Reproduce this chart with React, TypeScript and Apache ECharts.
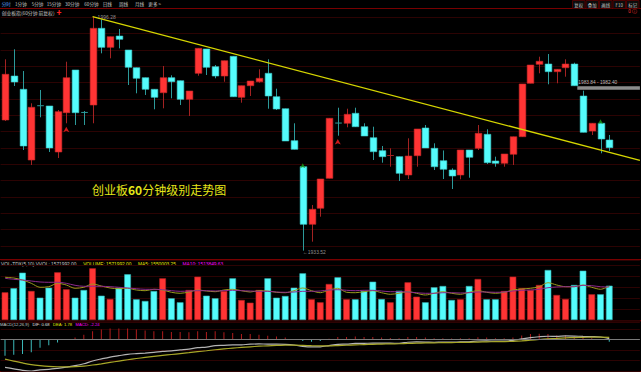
import React, { useEffect, useRef } from "react";
import * as echarts from "echarts";

// ---------- data ----------
const SLOTS = 73; // 70 bars + empty space at the right edge
const CATEGORIES = Array.from({ length: SLOTS }, (_, i) => "K" + (i + 1));

// [open, close, low, high]
const KLINE: number[][] = [
  [1968.57, 1980.83, 1968.3, 1984.85],
  [1980.37, 1978.76, 1977.69, 1987.54],
  [1976.81, 1961.6, 1960.52, 1981.71],
  [1957.84, 1971.98, 1956.5, 1973.05],
  [1972.4, 1972.25, 1969.3, 1976.62],
  [1972.33, 1961.06, 1959.99, 1972.33],
  [1959.99, 1970.8, 1958.37, 1971.25],
  [1970.53, 1979.92, 1967.69, 1984.21],
  [1981.98, 1970.53, 1967.23, 1981.98],
  [1970.6, 1970.5, 1967.23, 1970.98],
  [1972.59, 1993.17, 1967.69, 1996.28],
  [1993.17, 1988.07, 1986.46, 1995.58],
  [1988.07, 1990.92, 1985.12, 1990.92],
  [1991.1, 1990.22, 1987.8, 1992.98],
  [1987.35, 1982.71, 1977.96, 1987.35],
  [1982.6, 1979.76, 1975.73, 1982.6],
  [1979.92, 1976.81, 1975.28, 1979.92],
  [1976.81, 1974.66, 1971.44, 1976.81],
  [1975.89, 1979.92, 1971.71, 1983.06],
  [1979.92, 1978.84, 1974.39, 1980.56],
  [1979.11, 1974.12, 1972.59, 1979.11],
  [1974.12, 1976.35, 1969.64, 1976.35],
  [1981.1, 1987.8, 1980.45, 1987.8],
  [1987.62, 1982.71, 1980.64, 1987.62],
  [1982.87, 1980.37, 1979.76, 1983.32],
  [1980.37, 1984.48, 1978.84, 1984.48],
  [1985.66, 1974.82, 1974.82, 1985.66],
  [1974.66, 1977.77, 1973.21, 1977.77],
  [1977.77, 1979.03, 1975.01, 1979.03],
  [1978.84, 1979.76, 1978.58, 1982.17],
  [1981.1, 1975.01, 1971.6, 1984.85],
  [1974.82, 1971.52, 1971.25, 1976.97],
  [1971.6, 1962.94, 1962.94, 1971.6],
  [1963.02, 1960.71, 1960.71, 1967.69],
  [1956.04, 1940.59, 1933.52, 1956.04],
  [1940.59, 1944.62, 1935.93, 1945.77],
  [1944.89, 1952.74, 1942.63, 1952.74],
  [1952.93, 1969.03, 1952.93, 1969.03],
  [1967.75, 1967.65, 1964.36, 1971.87],
  [1967.69, 1970.1, 1966.61, 1971.6],
  [1970.37, 1966.77, 1966.77, 1971.87],
  [1966.77, 1964.28, 1964.28, 1967.69],
  [1963.82, 1960.07, 1957.84, 1966.77],
  [1960.34, 1958.73, 1957.12, 1961.6],
  [1958.95, 1959.05, 1956.04, 1960.98],
  [1958.73, 1954.27, 1952.21, 1958.73],
  [1953.82, 1958.91, 1952.74, 1963.66],
  [1958.99, 1966.16, 1956.04, 1966.16],
  [1966.43, 1961.06, 1961.06, 1967.23],
  [1960.98, 1956.04, 1955.16, 1962.32],
  [1957.65, 1955.35, 1952.74, 1960.4],
  [1955.16, 1953.55, 1950.06, 1955.61],
  [1953.82, 1960.52, 1952.66, 1960.52],
  [1960.52, 1958.57, 1953.09, 1960.52],
  [1960.98, 1965.0, 1960.52, 1967.23],
  [1964.73, 1957.12, 1956.77, 1966.08],
  [1957.57, 1956.96, 1956.04, 1958.73],
  [1956.96, 1959.45, 1956.04, 1959.45],
  [1959.37, 1964.09, 1956.5, 1964.09],
  [1964.09, 1978.23, 1964.09, 1978.23],
  [1978.42, 1983.32, 1978.42, 1983.32],
  [1983.51, 1984.32, 1981.1, 1985.55],
  [1983.59, 1981.53, 1978.15, 1986.27],
  [1981.53, 1982.17, 1978.42, 1982.17],
  [1982.6, 1983.59, 1980.19, 1984.85],
  [1983.59, 1977.77, 1977.77, 1983.94],
  [1975.01, 1965.27, 1965.27, 1976.43],
  [1965.62, 1967.69, 1964.55, 1967.69],
  [1967.69, 1963.47, 1959.64, 1967.69],
  [1963.21, 1961.14, 1960.26, 1964.55],
];

const VOLUME = [
  1269000, 1453000, 2168000, 1329000, 1022000, 1480000, 2186000, 1407000, 1022000, 1375000,
  2369000, 1114000, 962000, 1480000, 2094000, 949000, 871000, 1329000, 1911000, 995000,
  811000, 1375000, 1984000, 1114000, 995000, 1329000, 1911000, 917000, 793000, 1375000,
  1911000, 1022000, 1100000, 1480000, 2140000, 949000, 811000, 1650000, 1957000, 949000,
  949000, 1329000, 1755000, 962000, 811000, 1343000, 1728000, 1068000, 811000, 1499000,
  1558000, 917000, 949000, 1558000, 1879000, 949000, 949000, 1329000, 1984000, 1453000,
  1375000, 1604000, 2292000, 1146000, 962000, 1604000, 2259000, 1178000, 1178000, 1571992,
];

const VOL_MA5 = [
  1957000, 1925000, 1833000, 1682000, 1499000, 1526000, 1682000, 1604000, 1453000, 1499000,
  1650000, 1558000, 1467000, 1434000, 1453000, 1375000, 1343000, 1407000, 1375000, 1269000,
  1224000, 1283000, 1375000, 1329000, 1297000, 1375000, 1407000, 1343000, 1283000, 1343000,
  1329000, 1269000, 1251000, 1343000, 1467000, 1343000, 1251000, 1375000, 1453000, 1269000,
  1251000, 1297000, 1343000, 1251000, 1178000, 1224000, 1297000, 1224000, 1146000, 1224000,
  1297000, 1224000, 1178000, 1269000, 1343000, 1269000, 1224000, 1269000, 1375000, 1421000,
  1453000, 1526000, 1709000, 1604000, 1526000, 1526000, 1604000, 1499000, 1407000, 1550003.25,
];

const VOL_MA10 = [
  1911000, 1865000, 1833000, 1787000, 1742000, 1728000, 1728000, 1682000, 1590000, 1544000,
  1544000, 1544000, 1526000, 1499000, 1467000, 1434000, 1407000, 1407000, 1389000, 1343000,
  1315000, 1329000, 1343000, 1343000, 1329000, 1343000, 1361000, 1343000, 1329000, 1315000,
  1315000, 1283000, 1269000, 1283000, 1315000, 1315000, 1329000, 1375000, 1389000, 1361000,
  1343000, 1361000, 1361000, 1329000, 1297000, 1297000, 1283000, 1251000, 1224000, 1224000,
  1251000, 1251000, 1237000, 1251000, 1283000, 1283000, 1269000, 1283000, 1329000, 1361000,
  1375000, 1407000, 1480000, 1512000, 1526000, 1526000, 1590000, 1572000, 1526000, 1513849.63,
];

const MACD_HIST = [
  -15.7, -14.7, -14.0, -12.3, -8.0, -5.7, -3.0, -0.5, 1.7, 4.3,
  7.7, 9.3, 10.3, 10.3, 10.3, 9.3, 8.3, 7.7, 7.7, 7.0,
  7.0, 6.7, 7.7, 7.0, 7.7, 6.7, 6.0, 5.0, 5.0, 4.3,
  3.3, 2.7, 1.7, 0.3, -1.7, -2.3, -1.7, 0.5, 2.3, 2.3,
  2.7, 2.3, 2.3, 1.7, 1.3, 1.0, 2.3, 2.3, 1.7, 1.0,
  1.0, 0.7, 1.0, 1.0, 2.0, 1.7, 1.0, 1.0, 1.7, 3.7,
  5.0, 5.3, 5.0, 3.7, 3.7, 2.7, 1.7, 1.0, 0.3, -2.24,
];

const DIF = [
  -26.78, -28.12, -29.52, -30.21, -29.06, -28.63, -27.65, -26.46, -25.15, -23.31,
  -20.65, -18.69, -16.9, -15.62, -14.33, -13.66, -13.13, -12.46, -11.5, -10.98,
  -10.1, -9.41, -7.95, -7.43, -6.11, -5.78, -5.38, -5.25, -4.63, -4.44,
  -4.53, -4.49, -4.78, -5.44, -6.65, -7.24, -7.15, -5.98, -4.8, -4.51,
  -3.97, -3.89, -3.6, -3.69, -3.72, -3.75, -2.81, -2.52, -2.61, -2.83,
  -2.71, -2.77, -2.49, -2.37, -1.62, -1.56, -1.78, -1.66, -1.1, 0.36,
  1.64, 2.45, 2.93, 2.74, 3.2, 3.04, 2.75, 2.52, 2.21, 0.68,
];

const DEA = [
  -18.93, -20.77, -22.52, -24.06, -25.06, -25.78, -26.15, -26.21, -26.0, -25.46,
  -24.5, -23.34, -22.05, -20.77, -19.48, -18.31, -17.28, -16.31, -15.35, -14.48,
  -13.6, -12.76, -11.8, -10.93, -9.96, -9.13, -8.38, -7.75, -7.13, -6.59,
  -6.18, -5.84, -5.63, -5.59, -5.8, -6.09, -6.3, -6.23, -5.95, -5.66,
  -5.32, -5.04, -4.75, -4.54, -4.37, -4.25, -3.96, -3.67, -3.46, -3.33,
  -3.21, -3.12, -2.99, -2.87, -2.62, -2.41, -2.28, -2.16, -1.95, -1.49,
  -0.86, -0.2, 0.43, 0.89, 1.35, 1.69, 1.9, 2.02, 2.06, 1.78,
];

// signal marks: [bar index, price]
const BUY_ARROWS = [[7, 1966.77], [38, 1963.47]];
const GREEN_MARKS = [[34, 1956.96], [68, 1968.76]];
const HIGH_POINT = [10, 1996.28];
const LOW_POINT = [34, 1933.52];
// trend line: [bar position, price]
const TREND_LINE = [[10, 1996.28], [72.5, 1957.73]];
const GAP_TEXT = "1983.84 - 1982.40";
const GAP_BAND = { from: 65.35, to: 72.5, top: 1977.6, bottom: 1976.7 };

// ---------- styles ----------
const RED = "#ff3434";
const CYAN = "#54fcfc";
const RED_WICK = "#a32222";
const CYAN_WICK = "#2c9a9a";
const GRID_RED = "#2c0303";
const SEP_RED = "#780000";
const CN = '"Noto Sans CJK SC", "Noto Sans", sans-serif';
const EN = '"Liberation Sans", Arial, sans-serif';

const GL = 0.62;
const GW = 639.3;

function buildOption(): any {
  const isUp = (i: number) => KLINE[i][1] >= KLINE[i][0];

  const hiddenCat = (gridIndex: number) => ({
    type: "category",
    gridIndex,
    data: CATEGORIES,
    boundaryGap: true,
    show: false,
  });
  const gridAxis = (gridIndex: number, min: number, max: number, interval: number) => ({
    type: "value",
    gridIndex,
    min,
    max,
    interval,
    axisLine: { show: false },
    axisTick: { show: false },
    axisLabel: { show: false },
    splitLine: { show: true, lineStyle: { color: GRID_RED, width: 1 } },
  });

  const txt = (x: number, y: number, text: string, fill: string, size: number, family = CN, extra: any = {}) => ({
    type: "text",
    x,
    y,
    silent: true,
    style: { text, fill, fontSize: size, fontFamily: family, verticalAlign: "middle", ...extra },
  });
  const hline = (y: number, color: string, x1 = 0, x2 = 641) => ({
    type: "line",
    silent: true,
    shape: { x1, y1: y, x2, y2: y },
    style: { stroke: color, lineWidth: 1 },
  });

  const toolbar = [
    ["分时", 1.7, "#5aa0ff"],
    ["1分钟", 15, "#c8c8c8"],
    ["5分钟", 31.7, "#c8c8c8"],
    ["15分钟", 46.7, "#c8c8c8"],
    ["30分钟", 65, "#c8c8c8"],
    ["60分钟", 84.3, "#c8c8c8"],
    ["日线", 102.7, "#c8c8c8"],
    ["周线", 119, "#c8c8c8"],
    ["月线", 135, "#c8c8c8"],
    ["更多 >", 148.3, "#c8c8c8"],
  ].map(([t, x, c]) => txt(x as number, 4.2, t as string, c as string, 4.6));

  const buttons: any[] = [];
  ["复权", "叠加", "画线", "F10", "标记"].forEach((t, k) => {
    const x = 572.5 + k * 13.5;
    buttons.push({
      type: "rect",
      silent: true,
      shape: { x, y: 0.5, width: 12.5, height: 8 },
      style: { fill: "#0c0c0c", stroke: "#5a0000", lineWidth: 0.8 },
    });
    buttons.push(txt(x + 6.25, 4.5, t, "#c8c8c8", 4.4, CN, { align: "center" }));
  });

  const graphic = [
    hline(8.5, SEP_RED),
    ...toolbar,
    ...buttons,
    txt(1.7, 12, "创业板指(60分钟 前复权)", "#c8c8c8", 4.8),
    txt(56.5, 11.5, "✚", "#ff2020", 5),
    txt(637, 11.5, "0 ⓘ", "#ff3030", 4.5, EN, { align: "right" }),
    hline(259.5, SEP_RED),
    hline(320.8, SEP_RED),
    hline(371.5, SEP_RED),
    {
      type: "text",
      x: 92,
      y: 189,
      silent: true,
      style: {
        text: "{a|创业板}{b|60}{a|分钟级别走势图}",
        verticalAlign: "middle",
        rich: {
          a: { fill: "#e6e619", fontSize: 12, fontFamily: CN },
          b: { fill: "#e6e619", fontSize: 12, fontFamily: CN, fontWeight: "bold" },
        },
      },
    },
    {
      type: "text",
      x: 1,
      y: 264.3,
      silent: true,
      style: {
        text: "{g|VOL-TDX(5,10) VVOL: 1571992.00}  {y|VOLUME: 1571992.00}  {y|MA5: 1550003.25}  {m|MA10: 1513849.63}",
        verticalAlign: "middle",
        rich: {
          g: { fill: "#c8c8c8", fontSize: 4.8, fontFamily: EN },
          y: { fill: "#e6e600", fontSize: 4.8, fontFamily: EN },
          m: { fill: "#ff00ff", fontSize: 4.8, fontFamily: EN },
        },
      },
    },
    {
      type: "text",
      x: 0,
      y: 324.5,
      silent: true,
      style: {
        text: "{g|MACD(12,26,9)} {w|DIF: 0.68} {y|DEA: 1.78} {m|MACD: -2.24}",
        verticalAlign: "middle",
        rich: {
          g: { fill: "#c8c8c8", fontSize: 4.2, fontFamily: EN },
          w: { fill: "#e0e0e0", fontSize: 4.2, fontFamily: EN },
          y: { fill: "#e6e600", fontSize: 4.2, fontFamily: EN },
          m: { fill: "#ff00ff", fontSize: 4.2, fontFamily: EN },
        },
      },
    },
  ];

  const klineData = KLINE.map((k, i) => [i, k[0], k[1], k[2], k[3]]);

  return {
    animation: false,
    backgroundColor: "#000",
    grid: [
      { left: GL, width: GW, top: 15, height: 243 },
      { left: GL, width: GW, top: 17.3, height: 228.7 },
      { left: GL, width: GW, top: 260, height: 60 },
      { left: GL, width: GW, top: 322, height: 48.8 },
    ],
    xAxis: [
      hiddenCat(0),
      { type: "value", gridIndex: 0, min: -0.5, max: SLOTS - 0.5, show: false },
      { type: "value", gridIndex: 1, min: 0, max: 1, show: false },
      hiddenCat(2),
      hiddenCat(3),
    ],
    yAxis: [
      { type: "value", gridIndex: 0, min: 1931.55, max: 1996.74, show: false },
      gridAxis(1, 0, 14, 1),
      gridAxis(2, 0, 2749800, 504000),
      gridAxis(3, -30, 16.48, 10),
    ],
    graphic,
    series: [
      {
        type: "custom",
        name: "K",
        xAxisIndex: 0,
        yAxisIndex: 0,
        encode: { x: 0, y: [1, 2, 3, 4] },
        data: klineData,
        renderItem: (params: any, api: any) => {
          const idx = api.value(0);
          const o = api.value(1);
          const c = api.value(2);
          const l = api.value(3);
          const h = api.value(4);
          const up = c >= o;
          const pO = api.coord([idx, o]);
          const pC = api.coord([idx, c]);
          const pL = api.coord([idx, l]);
          const pH = api.coord([idx, h]);
          const w = api.size([1, 0])[0] * 0.76;
          const x = Math.round(pO[0]) + 0.5;
          const top = Math.min(pO[1], pC[1]);
          const bh = Math.abs(pO[1] - pC[1]);
          const wick = up ? RED_WICK : CYAN_WICK;
          const children: any[] = [
            { type: "line", shape: { x1: x, y1: pH[1], x2: x, y2: pL[1] }, style: { stroke: wick, lineWidth: 1 } },
          ];
          if (bh < 1.5) {
            children.push({
              type: "line",
              shape: { x1: x - w / 2, y1: top, x2: x + w / 2, y2: top },
              style: { stroke: wick, lineWidth: 1 },
            });
          } else {
            children.push({
              type: "rect",
              shape: { x: x - w / 2, y: top, width: w, height: bh },
              style: { fill: up ? RED : CYAN, stroke: up ? "#c82828" : "#3cc8c8", lineWidth: 0.6 },
            });
          }
          return { type: "group", children };
        },
      },
      {
        type: "line",
        name: "trend",
        xAxisIndex: 1,
        yAxisIndex: 0,
        data: TREND_LINE,
        symbol: "none",
        silent: true,
        lineStyle: { color: "#d6d600", width: 1.3 },
        markArea: {
          silent: true,
          itemStyle: { color: "#8c8c8c" },
          label: {
            show: true,
            position: [1, -6.5],
            formatter: GAP_TEXT,
            color: "#bdbdbd",
            fontSize: 4.8,
            fontFamily: EN,
          },
          data: [[{ coord: [GAP_BAND.from, GAP_BAND.top] }, { coord: [GAP_BAND.to, GAP_BAND.bottom] }]],
        },
      },
      {
        type: "scatter",
        xAxisIndex: 0,
        yAxisIndex: 0,
        data: BUY_ARROWS,
        symbol: "arrow",
        symbolSize: [4.5, 5.5],
        itemStyle: { color: "#ff2020" },
        silent: true,
      },
      {
        type: "scatter",
        xAxisIndex: 0,
        yAxisIndex: 0,
        data: GREEN_MARKS,
        symbol: "arrow",
        symbolSize: [4, 5],
        itemStyle: { color: "#1aa01a" },
        silent: true,
      },
      {
        type: "scatter",
        xAxisIndex: 0,
        yAxisIndex: 0,
        data: [HIGH_POINT],
        symbolSize: 0.1,
        itemStyle: { color: "transparent" },
        silent: true,
        label: {
          show: true,
          position: "right",
          distance: 5,
          formatter: (p: any) => p.value[1].toFixed(2),
          color: "#b4b4b4",
          fontSize: 5,
          fontFamily: EN,
        },
      },
      {
        type: "scatter",
        xAxisIndex: 0,
        yAxisIndex: 0,
        data: [LOW_POINT],
        symbolSize: 0.1,
        itemStyle: { color: "transparent" },
        silent: true,
        label: {
          show: true,
          position: "right",
          distance: 0,
          offset: [0, 1],
          formatter: (p: any) => "←" + p.value[1].toFixed(2),
          color: "#b4b4b4",
          fontSize: 5,
          fontFamily: EN,
        },
      },
      {
        type: "bar",
        name: "VOLUME",
        xAxisIndex: 3,
        yAxisIndex: 2,
        barWidth: "76%",
        data: VOLUME.map((v, i) => ({
          value: v,
          itemStyle: {
            color: isUp(i) ? RED : CYAN,
            borderColor: isUp(i) ? "#b82222" : "#34b4b4",
            borderWidth: 0.6,
          },
        })),
      },
      {
        type: "line",
        name: "MA5",
        xAxisIndex: 3,
        yAxisIndex: 2,
        data: VOL_MA5,
        symbol: "none",
        smooth: 0.3,
        lineStyle: { color: "#9a9a1e", width: 1 },
      },
      {
        type: "line",
        name: "MA10",
        xAxisIndex: 3,
        yAxisIndex: 2,
        data: VOL_MA10,
        symbol: "none",
        smooth: 0.3,
        lineStyle: { color: "#8c2a8c", width: 1 },
      },
      {
        type: "bar",
        name: "MACD",
        xAxisIndex: 4,
        yAxisIndex: 3,
        barWidth: 1,
        data: MACD_HIST.map((v) => ({ value: v, itemStyle: { color: v >= 0 ? "#b01c1c" : "#3cbaba" } })),
        markLine: {
          silent: true,
          symbol: "none",
          label: { show: false },
          lineStyle: { color: "#7a7a7a", width: 1, type: "solid" },
          data: [{ yAxis: 0 }],
        },
      },
      {
        type: "line",
        name: "DIF",
        xAxisIndex: 4,
        yAxisIndex: 3,
        data: DIF,
        symbol: "none",
        smooth: 0.3,
        lineStyle: { color: "#b4b4b4", width: 1.2 },
      },
      {
        type: "line",
        name: "DEA",
        xAxisIndex: 4,
        yAxisIndex: 3,
        data: DEA,
        symbol: "none",
        smooth: 0.3,
        lineStyle: { color: "#a8a828", width: 1.2 },
      },
    ],
  };
}

export default function App() {
  const ref = useRef<HTMLDivElement>(null);
  useEffect(() => {
    document.body.style.margin = "0";
    document.body.style.background = "#000";
    const chart = echarts.init(ref.current as HTMLDivElement, null, { renderer: "svg" });
    chart.setOption(buildOption());
    return () => chart.dispose();
  }, []);
  return (
    <div
      ref={ref}
      style={{ position: "fixed", left: 0, top: 0, width: 641, height: 372, background: "#000" }}
    />
  );
}
